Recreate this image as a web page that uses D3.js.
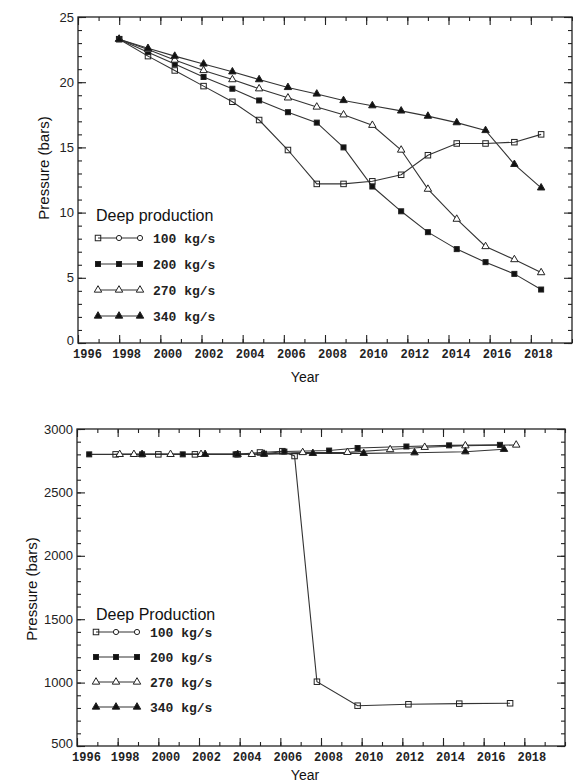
<!DOCTYPE html>
<html>
<head>
<meta charset="utf-8">
<script src="https://cdn.jsdelivr.net/npm/d3@7"></script>
<style>
  body { margin: 0; background: #fff; }
</style>
</head>
<body>
<div id="chart"></div>
<script>
'use strict';

// ---- upper panel: pressure in bars, one common set of sample years
var topYears = [1998.0, 1999.4, 2000.7, 2002.1, 2003.5, 2004.8, 2006.2, 2007.6,
  2008.9, 2010.3, 2011.7, 2013.0, 2014.4, 2015.8, 2017.2, 2018.5];
var top100 = [23.3, 22.0, 20.9, 19.7, 18.5, 17.1, 14.8, 12.2, 12.2, 12.4, 12.9, 14.4, 15.3, 15.3, 15.4, 16.0];
var top200 = [23.3, 22.3, 21.4, 20.4, 19.5, 18.6, 17.7, 16.9, 15.0, 12.0, 10.1, 8.5, 7.2, 6.2, 5.3, 4.1];
var top270 = [23.3, 22.5, 21.7, 20.9, 20.2, 19.5, 18.8, 18.1, 17.5, 16.7, 14.8, 11.8, 9.5, 7.4, 6.4, 5.4];
var top340 = [23.3, 22.6, 22.0, 21.4, 20.8, 20.2, 19.6, 19.1, 18.6, 18.2, 17.8, 17.4, 16.9, 16.3, 13.7, 11.9];

// ---- lower panel: each series has its own sample years
var low100Years = [1997.9, 2000.0, 2001.8, 2003.9, 2005.0, 2006.1, 2006.7, 2007.8, 2009.8, 2012.3, 2014.8, 2017.3];
var low100 = [2800, 2800, 2800, 2800, 2815, 2825, 2787, 1007, 818, 829, 834, 837];
var low200Years = [1996.6, 1999.2, 2001.2, 2003.8, 2005.2, 2006.2, 2008.4, 2009.8, 2012.2, 2014.3, 2016.8];
var low200 = [2800, 2800, 2800, 2800, 2805, 2822, 2830, 2850, 2862, 2871, 2875];
var low270Years = [1998.1, 1998.8, 2000.6, 2002.1, 2004.6, 2007.1, 2009.3, 2011.4, 2013.1, 2015.1, 2017.6];
var low270 = [2800, 2800, 2800, 2800, 2800, 2815, 2816, 2838, 2856, 2868, 2874];
var low340Years = [1999.2, 2002.3, 2003.9, 2005.2, 2007.6, 2010.1, 2012.6, 2015.1, 2017.0];
var low340 = [2800, 2800, 2800, 2802, 2808, 2808, 2813, 2821, 2840];

var legendLabels = ['100 kg/s', '200 kg/s', '270 kg/s', '340 kg/s'];
var markerTypes = ['osq', 'fsq', 'otri', 'ftri'];
var xLabelYears = d3.range(1996, 2019, 2);
var xMinorYears = d3.range(1996, 2021, 1);

var svg = d3.select('#chart')
  .append('svg')
  .attr('width', 573)
  .attr('height', 782)
  .style('font-family', '"Liberation Sans", Arial, sans-serif');

function drawMarker(g, type, cx, cy) {
  var s;
  if (type === 'osq' || type === 'fsq') {
    s = type === 'osq' ? 5.5 : 5;
    g.append('rect')
      .attr('x', cx - s / 2).attr('y', cy - s / 2)
      .attr('width', s).attr('height', s)
      .attr('fill', type === 'fsq' ? '#111' : 'none')
      .attr('stroke', '#222').attr('stroke-width', 1);
  } else if (type === 'ocir') {
    g.append('circle')
      .attr('cx', cx).attr('cy', cy).attr('r', 2.6)
      .attr('fill', '#fff').attr('stroke', '#222').attr('stroke-width', 1);
  } else {
    g.append('path')
      .attr('d', d3.symbol().type(d3.symbolTriangle).size(24)())
      .attr('transform', 'translate(' + cx + ',' + cy + ')')
      .attr('fill', type === 'ftri' ? '#111' : '#fff')
      .attr('stroke', '#222').attr('stroke-width', 1);
  }
}

function drawPanel(p) {
  var g = svg.append('g');
  var x = d3.scaleLinear().domain([1996, 2020]).range([p.left, p.right]);
  var y = d3.scaleLinear().domain(p.yDomain).range([p.bottom, p.top]);

  // axes: ticks point inward on all four sides
  g.append('g').attr('transform', 'translate(0,' + p.bottom + ')')
    .call(d3.axisBottom(x).tickValues(xMinorYears).tickSize(-4).tickSizeOuter(0).tickFormat(''));
  g.append('g').attr('transform', 'translate(0,' + p.bottom + ')')
    .attr('class', 'xlab')
    .call(d3.axisBottom(x).tickValues(xLabelYears).tickSize(-8).tickSizeOuter(0)
      .tickPadding(6).tickFormat(d3.format('d')));
  g.append('g').attr('transform', 'translate(0,' + p.top + ')')
    .call(d3.axisTop(x).tickValues(xMinorYears).tickSize(-4).tickSizeOuter(0).tickFormat(''));
  g.append('g').attr('transform', 'translate(0,' + p.top + ')')
    .call(d3.axisTop(x).tickValues(xLabelYears).tickSize(-8).tickSizeOuter(0).tickFormat(''));

  g.append('g').attr('transform', 'translate(' + p.left + ',0)')
    .call(d3.axisLeft(y).tickValues(p.yMinor).tickSize(-4).tickSizeOuter(0).tickFormat(''));
  g.append('g').attr('transform', 'translate(' + p.left + ',0)')
    .attr('class', 'ylab')
    .call(d3.axisLeft(y).tickValues(p.yMajor).tickSize(-8).tickSizeOuter(0)
      .tickPadding(4).tickFormat(d3.format('d')));
  g.append('g').attr('transform', 'translate(' + p.right + ',0)')
    .call(d3.axisRight(y).tickValues(p.yMinor).tickSize(-4).tickSizeOuter(0).tickFormat(''));
  g.append('g').attr('transform', 'translate(' + p.right + ',0)')
    .call(d3.axisRight(y).tickValues(p.yMajor).tickSize(-8).tickSizeOuter(0).tickFormat(''));

  g.selectAll('.domain').remove();
  g.selectAll('.tick line').attr('stroke', '#222').attr('stroke-width', 1.1);
  g.selectAll('.xlab text')
    .attr('dx', function (d) { return d === 1996 ? 9 : 7; })
    .style('font-family', '"Liberation Mono", "DejaVu Sans Mono", monospace')
    .style('font-weight', 'bold')
    .style('font-size', '12px')
    .attr('fill', '#222');
  g.selectAll('.ylab text')
    .attr('dy', function (d) { return d === p.yDomain[0] ? '0.1em' : '0.32em'; })
    .style('font-family', '"Liberation Sans", Arial, sans-serif')
    .style('font-size', '13px')
    .attr('fill', '#222');

  g.append('rect')
    .attr('x', p.left).attr('y', p.top)
    .attr('width', p.right - p.left).attr('height', p.bottom - p.top)
    .attr('fill', 'none').attr('stroke', '#222').attr('stroke-width', 1.3);

  // series
  var line = d3.line().x(function (d) { return x(d[0]); }).y(function (d) { return y(d[1]); });
  p.series.forEach(function (s) {
    var pts = s.years.map(function (yr, j) { return [yr, s.values[j]]; });
    g.append('path').datum(pts)
      .attr('d', line)
      .attr('fill', 'none').attr('stroke', '#333').attr('stroke-width', 1.1);
  });
  p.series.forEach(function (s, i) {
    s.years.forEach(function (yr, j) {
      drawMarker(g, markerTypes[i], x(yr), y(s.values[j]));
    });
  });

  // legend
  g.append('text')
    .attr('x', p.legX).attr('y', p.legTitleY)
    .style('font-size', '16px').attr('fill', '#111')
    .text(p.legTitle);
  legendLabels.forEach(function (lab, i) {
    var ly = p.legRows[i];
    g.append('line')
      .attr('x1', p.legMarks[0]).attr('x2', p.legMarks[2])
      .attr('y1', ly).attr('y2', ly)
      .attr('stroke', '#333').attr('stroke-width', 1.1);
    p.legMarks.forEach(function (mx, k) {
      var t = markerTypes[i];
      if (t === 'osq' && k > 0) t = 'ocir';
      drawMarker(g, t, mx, ly);
    });
    g.append('text')
      .attr('x', p.legMarks[2] + 13).attr('y', ly).attr('dy', '0.36em')
      .attr('xml:space', 'preserve')
      .style('font-family', '"Liberation Mono", "DejaVu Sans Mono", monospace')
      .style('font-weight', 'bold')
      .style('font-size', '13px').attr('fill', '#222')
      .text(lab);
  });

  // titles
  g.append('text')
    .attr('x', p.xTitleX).attr('y', p.xTitleY)
    .attr('text-anchor', 'middle')
    .style('font-size', '14px').attr('fill', '#111')
    .text('Year');
  g.append('text')
    .attr('transform', 'translate(' + p.yTitleX + ',' + p.yTitleY + ') rotate(-90)')
    .attr('text-anchor', 'middle')
    .style('font-size', '15px').attr('fill', '#111')
    .text('Pressure (bars)');
}

drawPanel({
  left: 78, right: 572, top: 17, bottom: 343,
  yDomain: [0, 25], yMajor: d3.range(0, 26, 5), yMinor: d3.range(0, 26, 1),
  series: [
    { years: topYears, values: top100 },
    { years: topYears, values: top200 },
    { years: topYears, values: top270 },
    { years: topYears, values: top340 }
  ],
  legTitle: 'Deep production', legX: 96, legTitleY: 221,
  legRows: [238, 264, 290, 316], legMarks: [98, 119, 140],
  xTitleX: 305, xTitleY: 382, yTitleX: 49, yTitleY: 168
});

drawPanel({
  left: 77, right: 565, top: 429, bottom: 746,
  yDomain: [500, 3000], yMajor: d3.range(500, 3001, 500), yMinor: d3.range(500, 3001, 100),
  series: [
    { years: low100Years, values: low100 },
    { years: low200Years, values: low200 },
    { years: low270Years, values: low270 },
    { years: low340Years, values: low340 }
  ],
  legTitle: 'Deep Production', legX: 96, legTitleY: 620,
  legRows: [632, 657, 682, 707], legMarks: [96, 116, 137],
  xTitleX: 305, xTitleY: 780, yTitleX: 37, yTitleY: 589
});
</script>
</body>
</html>
